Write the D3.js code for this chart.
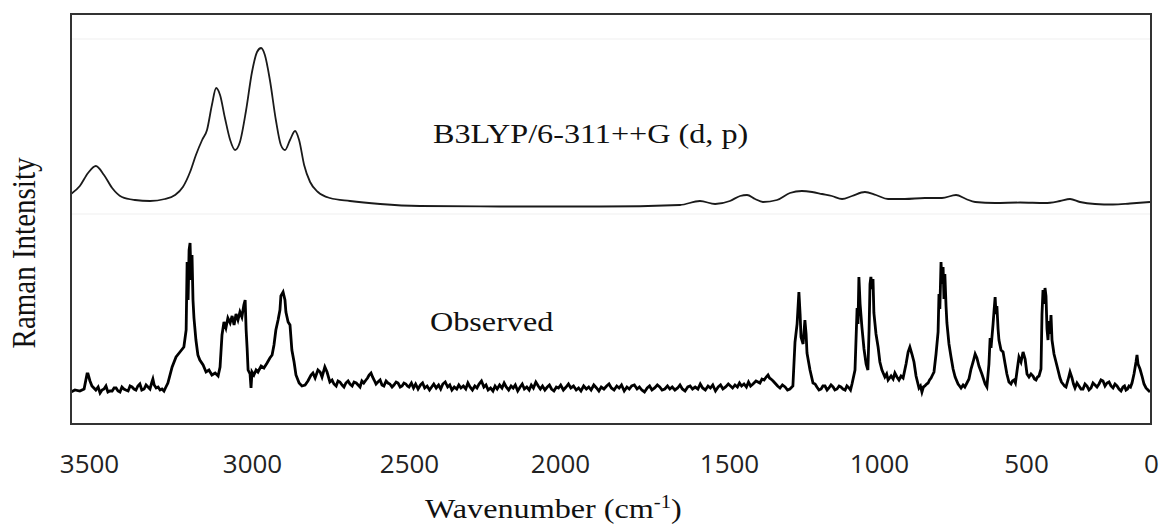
<!DOCTYPE html>
<html lang="en">
<head>
    <meta charset="UTF-8">
    <script src="https://d3js.org/d3.v7.min.js"></script>
    <style>
        body { margin: 0; background: #fff; }
        .serif { font-family: "Liberation Serif", "Times New Roman", serif; fill: #111; }
        .tick text { font-family: "Open Sans", sans-serif; fill: #222; }
    </style>
</head>
<body>
    <svg id="chart" width="1161" height="532"></svg>
    <script>
        // tick labels on the wavenumber axis
        const tickValues = [3500, 3000, 2500, 2000, 1500, 1000, 500, 0];

        const calcLabel = "B3LYP/6-311++G (d, p)";
        const obsLabel = "Observed";
        const xTitle = "Wavenumber (cm";
        const yTitle = "Raman Intensity";

        // calculated spectrum [wavenumber, intensity (arb.)]
        const calculated = [
            [3555,230],[3528,238],[3503,251],[3479,258],[3454,249],[3429,236],[3399,227],[3359,224],
            [3313,223],[3267,225],[3236,229],[3212,237],[3190,252],[3172,269],[3153,284],[3138,294],
            [3123,319],[3110,336],[3098,329],[3083,306],[3067,284],[3052,274],[3037,282],[3018,314],
            [3000,352],[2984,372],[2971,376],[2959,369],[2943,344],[2924,304],[2908,279],[2895,274],
            [2879,284],[2863,293],[2850,284],[2834,259],[2815,242],[2790,232],[2752,226],[2688,223],
            [2592,220],[2464,218],[2199,217.5],[1882,217.5],[1645,219],[1586,223],[1541,220],[1497,223],
            [1463,228],[1440,229],[1413,225],[1387,222],[1340,224],[1297,231],[1257,233],[1223,232],
            [1190,230],[1157,228],[1123,225],[1090,228],[1047,232],[1010,229],[969,225],[912,225],
            [844,226],[786,226],[738,229],[704,225],[673,222],[605,221],[520,221.5],[424,221],
            [364,223],[324,225],[284,222],[224,220],[152,219.5],[84,220.5],[4,222]
        ];

        // observed spectrum [wavenumber, intensity (arb.)]
        const observed = [
            [3555,32],[3543,34],[3528,33],[3515,35],[3506,50],[3503,50],[3497,43],[3491,38],[3479,34],
            [3472,37],[3466,31],[3460,34],[3454,35],[3448,38],[3442,32],[3436,33],[3429,33],[3423,36],
            [3417,36],[3411,33],[3405,32],[3399,37],[3393,35],[3387,34],[3380,33],[3374,38],[3368,37],
            [3362,35],[3356,34],[3350,38],[3344,40],[3338,34],[3331,35],[3325,39],[3319,37],[3313,35],
            [3307,42],[3304,45],[3300,39],[3294,36],[3288,37],[3282,34],[3276,35],[3270,33],[3264,37],
            [3258,41],[3245,57],[3233,67],[3221,72],[3209,77],[3202,94],[3199,162],[3196,124],[3193,174],
            [3190,181],[3187,144],[3184,169],[3181,124],[3178,106],[3172,84],[3166,69],[3160,64],[3150,59],
            [3141,52],[3132,54],[3123,49],[3113,51],[3104,48],[3098,57],[3092,89],[3086,102],[3080,96],
            [3074,106],[3067,101],[3061,108],[3055,99],[3049,110],[3043,104],[3037,112],[3031,107],
            [3025,119],[3021,124],[3018,94],[3015,76],[3012,54],[3006,50],[3003,36],[3000,52],[2994,49],
            [2987,54],[2981,52],[2971,58],[2962,56],[2952,61],[2943,66],[2936,69],[2930,79],[2924,94],
            [2917,104],[2911,114],[2908,128],[2901,132],[2895,124],[2892,112],[2885,102],[2879,99],
            [2873,74],[2866,62],[2860,49],[2850,41],[2841,38],[2831,39],[2822,43],[2812,49],[2806,51],
            [2799,46],[2790,54],[2783,52],[2777,47],[2768,57],[2761,52],[2752,42],[2745,44],[2739,40],
            [2732,38],[2726,43],[2720,42],[2713,39],[2707,37],[2701,41],[2694,43],[2688,40],[2681,38],
            [2675,42],[2668,41],[2662,39],[2656,37],[2650,43],[2644,41],[2637,44],[2632,46],[2627,49],
            [2621,51],[2616,47],[2611,44],[2605,40],[2599,42],[2592,44],[2586,39],[2580,38],[2573,43],
            [2567,41],[2561,40],[2554,37],[2548,39],[2541,42],[2535,41],[2528,37],[2522,38],[2516,41],
            [2510,40],[2505,38],[2500,37],[2492,41],[2485,36],[2478,40],[2470,35],[2462,39],[2455,41],
            [2448,36],[2440,38],[2432,34],[2425,37],[2418,40],[2410,36],[2402,39],[2395,35],[2388,40],
            [2380,42],[2372,37],[2365,39],[2358,34],[2350,37],[2342,35],[2335,39],[2328,36],[2320,38],
            [2312,35],[2305,41],[2298,37],[2290,34],[2282,38],[2275,36],[2268,40],[2260,43],[2252,37],
            [2245,39],[2238,34],[2230,36],[2222,33],[2215,38],[2208,35],[2200,39],[2192,36],[2185,41],
            [2178,37],[2170,34],[2162,38],[2155,36],[2148,39],[2140,33],[2132,37],[2125,40],[2118,35],
            [2110,37],[2102,34],[2095,39],[2088,36],[2080,42],[2072,38],[2065,35],[2058,38],[2050,34],
            [2042,37],[2035,39],[2028,35],[2020,33],[2012,37],[2005,36],[1998,39],[1990,34],[1982,37],
            [1975,40],[1968,36],[1960,38],[1952,34],[1945,36],[1938,33],[1930,38],[1922,35],[1915,37],
            [1908,34],[1900,39],[1892,36],[1885,33],[1878,37],[1870,35],[1862,38],[1855,40],[1848,36],
            [1840,34],[1832,38],[1825,36],[1818,39],[1810,33],[1802,37],[1795,35],[1788,38],[1780,39],
            [1772,35],[1765,37],[1758,34],[1750,32],[1742,36],[1735,38],[1728,34],[1720,36],[1712,39],
            [1705,37],[1698,34],[1690,35],[1682,38],[1675,35],[1668,37],[1660,34],[1652,36],[1645,39],
            [1638,35],[1630,33],[1622,37],[1615,38],[1608,35],[1600,37],[1592,35],[1585,40],[1578,36],
            [1570,34],[1562,38],[1555,36],[1548,39],[1540,33],[1532,37],[1525,39],[1518,35],[1510,37],
            [1502,40],[1495,38],[1488,36],[1480,39],[1472,37],[1465,41],[1458,38],[1450,40],[1442,37],
            [1435,42],[1428,38],[1420,40],[1410,43],[1397,41],[1390,45],[1383,44],[1376,47],[1370,49],
            [1365,46],[1360,45],[1353,43],[1347,41],[1338,38],[1330,36],[1322,39],[1313,37],[1305,34],
            [1297,35],[1287,38],[1280,82],[1273,100],[1267,132],[1263,110],[1260,87],[1253,80],[1247,104],
            [1243,90],[1240,71],[1230,54],[1220,41],[1213,40],[1207,37],[1200,34],[1193,35],[1187,38],
            [1180,38],[1173,34],[1167,36],[1160,39],[1153,37],[1147,34],[1140,35],[1133,38],[1127,37],
            [1120,35],[1113,34],[1107,38],[1100,36],[1095,34],[1090,40],[1080,54],[1073,116],[1070,100],
            [1067,147],[1063,120],[1057,97],[1050,75],[1043,60],[1037,54],[1033,95],[1030,140],[1027,147],
            [1023,135],[1020,145],[1017,111],[1010,90],[1003,77],[997,62],[990,54],[980,47],[974,50],
            [969,44],[964,46],[959,48],[952,45],[946,51],[939,47],[932,44],[925,48],[918,46],[908,60],
            [901,72],[895,77],[888,70],[881,62],[874,48],[864,36],[859,38],[854,32],[849,37],[844,38],
            [838,40],[833,41],[828,44],[823,46],[818,49],[813,52],[806,70],[799,92],[796,130],[793,115],
            [789,162],[786,140],[782,157],[779,125],[776,150],[772,118],[769,101],[762,80],[755,67],
            [748,55],[741,47],[731,40],[726,38],[721,36],[714,39],[708,37],[701,41],[694,45],[687,55],
            [680,62],[673,70],[667,66],[660,58],[650,50],[639,40],[633,37],[626,60],[622,86],[619,76],
            [612,100],[609,112],[605,127],[602,110],[599,118],[595,95],[592,84],[585,74],[578,72],
            [571,60],[565,50],[558,42],[551,40],[546,43],[541,44],[536,41],[531,52],[524,67],[517,62],
            [510,72],[503,65],[496,50],[488,47],[480,50],[472,48],[466,45],[460,44],[454,47],[448,48],
            [440,55],[436,110],[432,134],[428,120],[424,136],[420,128],[416,95],[412,84],[408,103],
            [404,90],[400,109],[396,84],[388,70],[380,62],[372,54],[364,46],[358,42],[352,40],[346,38],
            [340,37],[332,44],[324,52],[316,46],[310,40],[304,36],[296,41],[288,38],[280,35],[272,35],
            [264,40],[256,38],[248,34],[240,36],[232,41],[224,39],[216,37],[208,40],[200,44],[192,43],
            [184,38],[176,41],[168,42],[160,38],[152,36],[144,40],[136,38],[128,35],[120,33],[112,37],
            [106,38],[100,34],[94,35],[88,38],[82,37],[76,41],[68,50],[60,62],[56,69],[52,60],[44,55],
            [36,48],[28,40],[20,36],[12,34],[4,32]
        ];

        const svg = d3.select("#chart");
        const plot = { left: 71, right: 1151, top: 14, bottom: 424 };

        // the printed tick labels are not evenly spaced, so the scale is piecewise
        const x = d3.scaleLinear()
            .domain([3555, 3500, 3000, 2500, 2000, 1500, 1000, 500, 0])
            .range([plot.left, 89, 252, 409, 560, 729, 879, 1026, plot.right]);

        const y = d3.scaleLinear()
            .domain([0, 410])
            .range([plot.bottom, plot.top]);

        // faint guide lines from the source image
        svg.selectAll(".guide")
            .data([39, 214])
            .enter().append("line")
            .attr("x1", plot.left + 1).attr("x2", plot.right - 1)
            .attr("y1", d => d).attr("y2", d => d)
            .attr("stroke", "#f4f4f4")
            .attr("stroke-width", 1.5);

        svg.append("path")
            .datum(calculated)
            .attr("fill", "none")
            .attr("stroke", "#1a1a1a")
            .attr("stroke-width", 1.8)
            .attr("d", d3.line()
                .x(d => x(d[0]))
                .y(d => y(d[1]))
                .curve(d3.curveMonotoneX));

        svg.append("path")
            .datum(observed)
            .attr("fill", "none")
            .attr("stroke", "#000")
            .attr("stroke-width", 2.8)
            .attr("d", d3.line().x(d => x(d[0])).y(d => y(d[1])));

        svg.append("rect")
            .attr("x", plot.left)
            .attr("y", plot.top)
            .attr("width", plot.right - plot.left)
            .attr("height", plot.bottom - plot.top)
            .attr("fill", "none")
            .attr("stroke", "#333")
            .attr("stroke-width", 2);

        const xAxis = svg.append("g")
            .attr("transform", `translate(0,${plot.bottom})`)
            .call(d3.axisBottom(x).tickValues(tickValues).tickSize(0).tickFormat(d3.format("d")));
        xAxis.select(".domain").remove();
        xAxis.selectAll("text")
            .attr("y", 49)
            .attr("dy", 0)
            .style("font-size", "26px");

        // serif labels, slightly stretched horizontally like the source
        svg.append("text")
            .attr("class", "serif")
            .attr("transform", "translate(433,143) scale(1.15,1)")
            .style("font-size", "28px")
            .text(calcLabel);

        svg.append("text")
            .attr("class", "serif")
            .attr("transform", "translate(430,331) scale(1.15,1)")
            .style("font-size", "28px")
            .text(obsLabel);

        const title = svg.append("text")
            .attr("class", "serif")
            .attr("transform", "translate(425,518) scale(1.15,1)")
            .style("font-size", "28px");
        title.append("tspan").text(xTitle);
        title.append("tspan").attr("dy", -10).style("font-size", "18px").text("-1");
        title.append("tspan").attr("dy", 10).text(")");

        svg.append("text")
            .attr("class", "serif")
            .attr("transform", "translate(35,253) scale(1.15,1) rotate(-90)")
            .attr("text-anchor", "middle")
            .style("font-size", "29px")
            .text(yTitle);
    </script>
</body>
</html>
